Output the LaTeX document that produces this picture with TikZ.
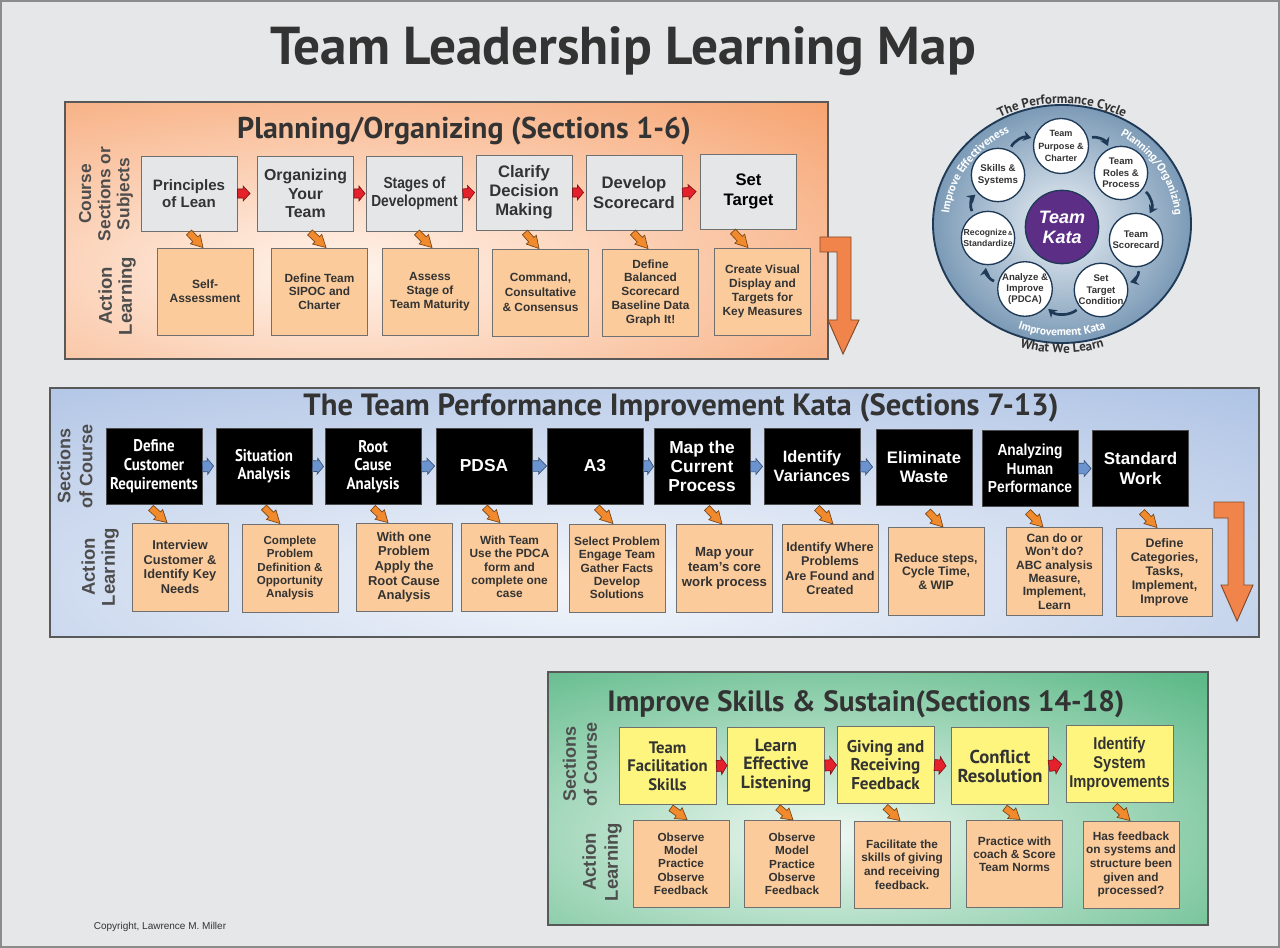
\documentclass[tikz,border=0pt]{standalone}
\usepackage{fontspec}
\setmainfont{Liberation Sans}
\newfontfamily\hfont{PT Sans}
\newfontfamily\hnfont[FakeStretch=0.88]{PT Sans}
\newfontfamily\nfont[FakeStretch=0.86]{Liberation Sans}
\usetikzlibrary{calc,arrows.meta,decorations.text}
\definecolor{bg}{HTML}{E6E7E8}
\definecolor{framec}{HTML}{8C8C8C}
\definecolor{txt}{HTML}{333333}
\definecolor{labgray}{HTML}{4D4D4D}
\definecolor{orp}{HTML}{F6A26E}
\definecolor{orglow}{HTML}{FFF4EC}
\definecolor{bluep}{HTML}{A9BFE3}
\definecolor{blueglow}{HTML}{F3F6FB}
\definecolor{greenp}{HTML}{5FBA89}
\definecolor{greenglow}{HTML}{EEF8F2}
\definecolor{graybox}{HTML}{E5E6E8}
\definecolor{boxgray}{HTML}{707070}
\definecolor{peach}{HTML}{FBCB9B}
\definecolor{yel}{HTML}{FDF57E}
\definecolor{redar}{HTML}{E5222B}
\definecolor{bluear}{HTML}{6B93CF}
\definecolor{orar}{HTML}{F08A2C}
\definecolor{bigar}{HTML}{F0844A}
\definecolor{ring}{HTML}{3D6A93}
\definecolor{ringdark}{HTML}{1F3A57}
\definecolor{ringlight}{HTML}{EDF2F7}
\definecolor{katac}{HTML}{5C2E86}
\definecolor{pbord}{HTML}{595959}
\newcommand\ringwfont{\color{white}\hfont\bfseries\fontsize{8.5}{9}\selectfont}
\newcommand\ringdfont{\color{txt}\hfont\bfseries\fontsize{9.8}{10}\selectfont}
\tikzset{
 barrow/.style args={#1/#2/#3}{to path={
  ($(\tikztostart)!#1!90:(\tikztotarget)$)
  -- ($(\tikztostart)!#3!(\tikztotarget)!#1!90:(\tikztotarget)$)
  -- ($(\tikztostart)!#3!(\tikztotarget)!#2!90:(\tikztotarget)$)
  -- (\tikztotarget)
  -- ($(\tikztostart)!#3!(\tikztotarget)!#2!-90:(\tikztotarget)$)
  -- ($(\tikztostart)!#3!(\tikztotarget)!#1!-90:(\tikztotarget)$)
  -- ($(\tikztostart)!#1!-90:(\tikztotarget)$)
  -- cycle}},
 redarr/.style={barrow=3.4pt/5.6pt/0.45, fill=redar, draw=redar!55!black, line width=0.5pt},
 greenarr/.style={barrow=4.1pt/6.6pt/0.45, fill=redar, draw=redar!55!black, line width=0.5pt},
 bluearr/.style={barrow=4pt/6pt/0.45, fill=bluear, draw=bluear!55!black, line width=0.5pt},
 orarr/.style={barrow=2.6pt/5pt/0.45, fill=orar, draw=orar!50!black, line width=0.5pt},
 pborder/.style={draw=pbord, line width=0.8pt},
 gbox/.style={draw=boxgray, line width=0.7pt, fill=graybox, minimum width=72pt, minimum height=56.25pt, inner sep=1pt, align=center, text=txt},
 pbox/.style={draw=boxgray, line width=0.7pt, fill=peach, minimum width=72pt, minimum height=65.25pt, inner sep=1pt, align=center, text=txt, font=\bfseries\fontsize{8.9}{10.3}\selectfont},
 kbox/.style={draw=black!70, fill=black, line width=0.7pt, minimum width=72pt, minimum height=57pt, inner sep=1pt, align=center, text=white, font=\bfseries\fontsize{12.7}{14.3}\selectfont},
 ybox/.style={draw=boxgray, line width=0.7pt, fill=yel, minimum width=72.75pt, minimum height=57.75pt, inner sep=1pt, align=center, text=txt},
 side/.style={rotate=90, align=center, text=labgray},
 ptitle/.style={anchor=base, text=txt, font=\hfont\bfseries\fontsize{22.5}{24}\selectfont},
 cnode/.style={circle, draw=ringdark, line width=1pt, fill=white, minimum size=40pt, inner sep=0pt, align=center, text=txt, font=\bfseries\fontsize{7.2}{8.6}\selectfont},
 cyc/.style={draw=ringdark, line width=2pt, -{Stealth[length=6pt,width=7.5pt]}, shorten <=3pt, shorten >=2pt},
 bigarrow/.style={fill=bigar, draw=bigar!55!black, line width=0.7pt}
}
\begin{document}
\begin{tikzpicture}[x=0.75pt,y=0.75pt]
\useasboundingbox (0,0) rectangle (1280,-948);
\fill[bg] (0,0) rectangle (1280,-948);
\draw[framec, line width=1.2pt] (1,-1) rectangle (1279,-947);

\node[anchor=base, text=txt, font=\hfont\bfseries\fontsize{40}{44}\selectfont] (title) at (623,-65) {Team Leadership Learning Map};

% ================= ORANGE PANEL =================
\fill[orp] (65,-102) rectangle (828,-359);
\begin{scope}
\clip (65,-102) rectangle (828,-359);
\shade[inner color=orglow, outer color=orp] (340,-270) ellipse [x radius=700, y radius=240];
\end{scope}
\draw[pborder] (65,-102) rectangle (828,-359);
\node[ptitle] (otitle) at (464,-139) {Planning/Organizing (Sections 1-6)};
\node[side, font=\bfseries\fontsize{13}{14.3}\selectfont] (osl) at (106,-194) {Course\\Sections or\\Subjects};
\node[side, font=\bfseries\fontsize{13.9}{15}\selectfont] (oal) at (117,-296) {Action\\Learning};

\node[gbox, font=\bfseries\fontsize{11.3}{13.3}\selectfont] (T1) at (189,-193.5) {Principles\\of Lean};
\node[gbox, font=\bfseries\fontsize{11.9}{13.75}\selectfont] (T2) at (305.5,-193.5) {Organizing\\Your\\Team};
\node[gbox, font=\nfont\bfseries\fontsize{12}{13.5}\selectfont] (T3) at (414.5,-193.5) {Stages of\\Development};
\node[gbox, font=\bfseries\fontsize{12.5}{14.3}\selectfont] (T4) at (524,-192.5) {Clarify\\Decision\\Making};
\node[gbox, font=\bfseries\fontsize{12.5}{14.5}\selectfont] (T5) at (634,-192.5) {Develop\\Scorecard};
\node[gbox, text=black, font=\bfseries\fontsize{12.5}{14.5}\selectfont] (T6) at (748.5,-191.5) {Set\\Target};

\node[pbox, font=\bfseries\fontsize{9}{10.5}\selectfont] (B1) at (205,-291.5) {Self-\\Assessment};
\node[pbox] (B2) at (319.5,-291.5) {Define Team\\SIPOC and\\Charter};
\node[pbox] (B3) at (430,-291.5) {Assess\\Stage of\\Team Maturity};
\node[pbox, font=\bfseries\fontsize{8.9}{11.2}\selectfont] (B4) at (540.5,-292.5) {Command,\\Consultative\\\& Consensus};
\node[pbox] (B5) at (650.5,-292.5) {Define\\Balanced\\Scorecard\\Baseline Data\\Graph It!};
\node[pbox] (B6) at (762.5,-291.5) {Create Visual\\Display and\\Targets for\\Key Measures};

\draw[redarr] (T1.east) to ([shift={(-7,0)}]T2.west);
\draw[redarr] (T2.east) to ([shift={(-1,0)}]T3.west);
\draw[redarr] (T3.east) to ([shift={(-1,0)}]T4.west);
\draw[redarr] (T4.east) to ([shift={(-2,0)}]T5.west);
\draw[redarr] (T5.east) to ([shift={(-4,0)}]T6.west);

\draw[orarr] ([shift={(0,-1)}]T1.south) to ([shift={(-2,0)}]B1.north);
\draw[orarr] ([shift={(4.5,-1)}]T2.south) to ([shift={(6.5,0)}]B2.north);
\draw[orarr] ([shift={(2.5,-1)}]T3.south) to ([shift={(2,0)}]B3.north);
\draw[orarr] ([shift={(1,-2)}]T4.south) to ([shift={(-1.5,0)}]B4.north);
\draw[orarr] ([shift={(-1,-2)}]T5.south) to ([shift={(-2.5,0)}]B5.north);
\draw[orarr] ([shift={(-15.5,-2)}]T6.south) to ([shift={(-14.5,0)}]B6.north);

\filldraw[bigarrow] (820,-237) -- (851,-237) -- (851,-320) -- (859,-320) -- (843,-354) -- (828,-320) -- (837,-320) -- (837,-252) -- (820,-252) -- cycle;

% ================= BLUE PANEL =================
\fill[bluep] (50,-388) rectangle (1259,-637);
\begin{scope}
\clip (50,-388) rectangle (1259,-637);
\shade[inner color=blueglow, outer color=bluep] (600,-585) ellipse [x radius=1100, y radius=280];
\end{scope}
\draw[pborder] (50,-388) rectangle (1259,-637);
\node[ptitle, font=\hfont\bfseries\fontsize{23}{24}\selectfont] (btitle) at (681,-415) {The Team Performance Improvement Kata (Sections 7-13)};
\node[side, font=\bfseries\fontsize{13.5}{16.5}\selectfont] (bsl) at (75,-466) {Sections\\of Course};
\node[side, font=\bfseries\fontsize{13.9}{15}\selectfont] (bal) at (100,-567) {Action\\Learning};

\node[kbox, font=\hnfont\bfseries\fontsize{12.7}{14.3}\selectfont] (K1) at (154,-466.5) {Define\\Customer\\Requirements};
\node[kbox, font=\hnfont\bfseries\fontsize{12.7}{13.8}\selectfont] (K2) at (264,-466) {Situation\\Analysis};
\node[kbox, font=\hnfont\bfseries\fontsize{12.7}{13.8}\selectfont] (K3) at (373,-466.5) {Root\\Cause\\Analysis};
\node[kbox, font=\bfseries\fontsize{13}{14.3}\selectfont] (K4) at (484,-466) {PDSA};
\node[kbox, font=\bfseries\fontsize{13}{14.3}\selectfont] (K5) at (595,-466) {A3};
\node[kbox, font=\bfseries\fontsize{13}{14.3}\selectfont] (K6) at (702,-466.5) {Map the\\Current\\Process};
\node[kbox, font=\bfseries\fontsize{12.3}{14.25}\selectfont] (K7) at (812,-466.5) {Identify\\Variances};
\node[kbox, font=\bfseries\fontsize{12.5}{14}\selectfont] (K8) at (924,-467) {Eliminate\\Waste};
\node[kbox, font=\nfont\bfseries\fontsize{12}{13.75}\selectfont] (K9) at (1030,-468.5) {Analyzing\\Human\\Performance};
\node[kbox, font=\bfseries\fontsize{12.7}{14.5}\selectfont] (K10) at (1140.5,-468.5) {Standard\\Work};

\node[pbox, minimum height=66pt, font=\bfseries\fontsize{9.6}{11}\selectfont] (L1) at (180,-567) {Interview\\Customer \&\\Identify Key\\Needs};
\node[pbox, minimum height=66pt, font=\bfseries\fontsize{8.7}{10}\selectfont] (L2) at (290,-568) {Complete\\Problem\\Definition \&\\Opportunity\\Analysis};
\node[pbox, minimum height=66pt, font=\bfseries\fontsize{9.7}{11}\selectfont] (L3) at (404,-567) {With one\\Problem\\Apply the\\Root Cause\\Analysis};
\node[pbox, minimum height=66pt, font=\bfseries\fontsize{8.9}{10}\selectfont] (L4) at (509.5,-567) {With Team\\Use the PDCA\\form and\\complete one\\case};
\node[pbox, minimum height=66pt, font=\bfseries\fontsize{8.9}{10}\selectfont] (L5) at (617,-568) {Select Problem\\Engage Team\\Gather Facts\\Develop\\Solutions};
\node[pbox, minimum height=66pt, font=\bfseries\fontsize{9.9}{11.25}\selectfont] (L6) at (724.5,-568.5) {Map your\\team’s core\\work process};
\node[pbox, minimum height=66pt, font=\bfseries\fontsize{9.5}{10.8}\selectfont] (L7) at (830,-568.5) {Identify Where\\Problems\\Are Found and\\Created};
\node[pbox, minimum height=66pt, font=\bfseries\fontsize{9.2}{10}\selectfont] (L8) at (936,-571.5) {Reduce steps,\\Cycle Time,\\\& WIP};
\node[pbox, minimum height=66pt, font=\bfseries\fontsize{9}{10}\selectfont] (L9) at (1054.5,-571.5) {Can do or\\Won’t do?\\ABC analysis\\Measure,\\Implement,\\Learn};
\node[pbox, minimum height=66pt, font=\bfseries\fontsize{9.3}{10.5}\selectfont] (L10) at (1164.5,-572) {Define\\Categories,\\Tasks,\\Implement,\\Improve};

\draw[bluearr] (K1.east) to ([shift={(-2,0)}]K2.west);
\draw[bluearr] (K2.east) to ([shift={(-1,0)}]K3.west);
\draw[bluearr] (K3.east) to ([shift={(-1,0)}]K4.west);
\draw[bluearr] (K4.east) to (K5.west);
\draw[bluearr] (K5.east) to (K6.west);
\draw[bluearr] (K6.east) to ([shift={(-1,0)}]K7.west);
\draw[bluearr] (K7.east) to ([shift={(-3,0)}]K8.west);
\draw[bluearr] (K9.east) to ([shift={(-1,0)}]K10.west);

\draw[orarr] ([shift={(-3,-3)}]K1.south) to ([shift={(-13,0)}]L1.north);
\draw[orarr] ([shift={(0,-3)}]K2.south) to ([shift={(-10,0)}]L2.north);
\draw[orarr] ([shift={(0,-3)}]K3.south) to ([shift={(-16,0)}]L3.north);
\draw[orarr] ([shift={(1,-3)}]K4.south) to ([shift={(-9.5,0)}]L4.north);
\draw[orarr] ([shift={(2,-3)}]K5.south) to ([shift={(-4,0)}]L5.north);
\draw[orarr] ([shift={(5,-3)}]K6.south) to ([shift={(-2.5,0)}]L6.north);
\draw[orarr] ([shift={(5,-3)}]K7.south) to ([shift={(3,0)}]L7.north);
\draw[orarr] ([shift={(4,-6)}]K8.south) to ([shift={(7,0)}]L8.north);
\draw[orarr] ([shift={(-2,-5)}]K9.south) to ([shift={(-11.5,0)}]L9.north);
\draw[orarr] ([shift={(1.5,-5)}]K10.south) to ([shift={(-7.5,0)}]L10.north);

\filldraw[bigarrow] (1214,-502) -- (1244,-502) -- (1244,-585) -- (1253,-585) -- (1237,-621) -- (1221,-585) -- (1228,-585) -- (1228,-518) -- (1214,-518) -- cycle;

% ================= GREEN PANEL =================
\fill[greenp] (548,-672) rectangle (1208,-925);
\begin{scope}
\clip (548,-672) rectangle (1208,-925);
\shade[inner color=greenglow, outer color=greenp] (830,-835) ellipse [x radius=540, y radius=210];
\end{scope}
\draw[pborder] (548,-672) rectangle (1208,-925);
\node[ptitle, font=\hfont\bfseries\fontsize{22}{24}\selectfont] (gtitle) at (866,-711) {Improve Skills \& Sustain(Sections 14-18)};
\node[side, font=\bfseries\fontsize{13.5}{15.75}\selectfont] (gsl) at (580,-764) {Sections\\of Course};
\node[side, font=\bfseries\fontsize{13.9}{16.5}\selectfont] (gal) at (602,-862) {Action\\Learning};

\node[ybox, font=\hfont\bfseries\fontsize{12.5}{13.75}\selectfont] (G1) at (667.5,-766) {Team\\Facilitation\\Skills};
\node[ybox, font=\hfont\bfseries\fontsize{13.3}{14}\selectfont] (G2) at (776,-765.5) {Learn\\Effective\\Listening};
\node[ybox, font=\hfont\bfseries\fontsize{12.8}{13.75}\selectfont] (G3) at (885.5,-765) {Giving and\\Receiving\\Feedback};
\node[ybox, font=\hfont\bfseries\fontsize{14}{14.25}\selectfont] (G4) at (1000,-766) {Conflict\\Resolution};
\node[ybox, minimum width=80.25pt, font=\nfont\bfseries\fontsize{12.8}{14}\selectfont] (G5) at (1119.5,-764) {Identify\\System\\Improvements};

\node[pbox, font=\bfseries\fontsize{8.8}{10}\selectfont] (H1) at (681,-863.5) {Observe\\Model\\Practice\\Observe\\Feedback};
\node[pbox, font=\bfseries\fontsize{8.8}{10}\selectfont] (H2) at (792,-864) {Observe\\Model\\Practice\\Observe\\Feedback};
\node[pbox, font=\bfseries\fontsize{8.8}{10.2}\selectfont] (H3) at (902,-864.5) {Facilitate the\\skills of giving\\and receiving\\feedback.};
\node[pbox, font=\bfseries\fontsize{8.9}{10}\selectfont] (H4) at (1014.5,-863.5) {Practice with\\coach \& Score\\Team Norms\\[4pt]};
\node[pbox, font=\bfseries\fontsize{8.9}{10.2}\selectfont] (H5) at (1131,-864.5) {Has feedback\\on systems and\\structure been\\given and\\processed?};

\draw[greenarr] (G1.east) to (G2.west);
\draw[greenarr] (G2.east) to (G3.west);
\draw[greenarr] (G3.east) to ([shift={(-5,0)}]G4.west);
\draw[greenarr] (G4.east) to ([shift={(-4,0)}]G5.west);

\draw[orarr] ([shift={(3.5,-3)}]G1.south) to ([shift={(6,0)}]H1.north);
\draw[orarr] ([shift={(2,-3)}]G2.south) to ([shift={(1,0)}]H2.north);
\draw[orarr] ([shift={(0,-3)}]G3.south) to ([shift={(-2,0)}]H3.north);
\draw[orarr] ([shift={(5,-3)}]G4.south) to ([shift={(5.5,0)}]H4.north);
\draw[orarr] ([shift={(-4.5,-3)}]G5.south) to ([shift={(-1,0)}]H5.north);

% ================= PERFORMANCE CYCLE =================
\coordinate (cc) at (1062,-224);
\fill[ring] (cc) ellipse [x radius=96.75pt, y radius=89.25pt];
\begin{scope}
\clip (cc) ellipse [x radius=96.75pt, y radius=89.25pt];
\shade[inner color=ringlight, outer color=ring] (cc) ellipse [x radius=150pt, y radius=138pt];
\end{scope}
\draw[ringdark, line width=1.4pt] (cc) ellipse [x radius=96.75pt, y radius=89.25pt];

\path[decorate, decoration={text along path, text align=center, text={|\ringdfont|The Performance Cycle}}]
  ($(cc)+(130:98.5pt and 90.5pt)$) arc[start angle=130, end angle=50, x radius=98.5pt, y radius=90.5pt];
\path[decorate, decoration={text along path, text align=center, text={|\ringwfont|Improve Effectiveness}}]
  ($(cc)+(188:85pt and 77.5pt)$) arc[start angle=188, end angle=105, x radius=85pt, y radius=77.5pt];
\path[decorate, decoration={text along path, text align=center, text={|\ringwfont|Planning/Organizing}}]
  ($(cc)+(72:85pt and 77.5pt)$) arc[start angle=72, end angle=-9, x radius=85pt, y radius=77.5pt];
\path[decorate, decoration={text along path, text align=center, text={|\ringwfont|Improvement Kata}}]
  ($(cc)+(230:91.5pt and 84pt)$) arc[start angle=230, end angle=310, x radius=91.5pt, y radius=84pt];
\path[decorate, decoration={text along path, text align=center, text={|\ringdfont|What We Learn}}]
  ($(cc)+(240:104.25pt and 96.75pt)$) arc[start angle=240, end angle=300, x radius=104.25pt, y radius=96.75pt];

\node[cnode, font=\bfseries\fontsize{6.8}{9.3}\selectfont] (purpose) at (1061,-146) {Team\\Purpose \&\\Charter};
\node[cnode] (roles) at (1121,-173) {Team\\Roles \&\\Process};
\node[cnode] (score) at (1136,-240) {Team\\Scorecard};
\node[cnode] (target) at (1101,-290) {Set\\Target\\Condition};
\node[cnode, font=\bfseries\fontsize{7.2}{7.9}\selectfont] (analyze) at (1025,-289) {Analyze \&\\Improve\\(PDCA)};
\node[cnode, font=\bfseries\fontsize{6.5}{8.4}\selectfont] (recog) at (988,-238) {Recognize{\fontsize{4.5}{5}\selectfont\,\&}\\Standardize};
\node[cnode, font=\bfseries\fontsize{7.3}{8.4}\selectfont] (skills) at (998,-175) {Skills \&\\Systems};
\node[circle, fill=katac, draw=ringdark, line width=1pt, minimum size=55pt, inner sep=0pt, align=center, text=white, font=\bfseries\itshape\fontsize{13.5}{15}\selectfont] (kata) at (1062,-227) {Team\\Kata};

\draw[cyc] (skills) to[bend left=40] (purpose);
\draw[cyc] (purpose) to[bend left=40] (roles);
\draw[cyc] (roles) to[bend left=40] (score);
\draw[cyc] (score) to[bend left=40] (target);
\draw[cyc] (target) to[bend left=40] (analyze);
\draw[cyc] (analyze) to[bend left=40] (recog);
\draw[cyc] (recog) to[bend left=40] (skills);

\node[text=txt, font=\fontsize{7.5}{8}\selectfont] (copy) at (160,-927) {Copyright, Lawrence M. Miller};
\end{tikzpicture}
\end{document}
